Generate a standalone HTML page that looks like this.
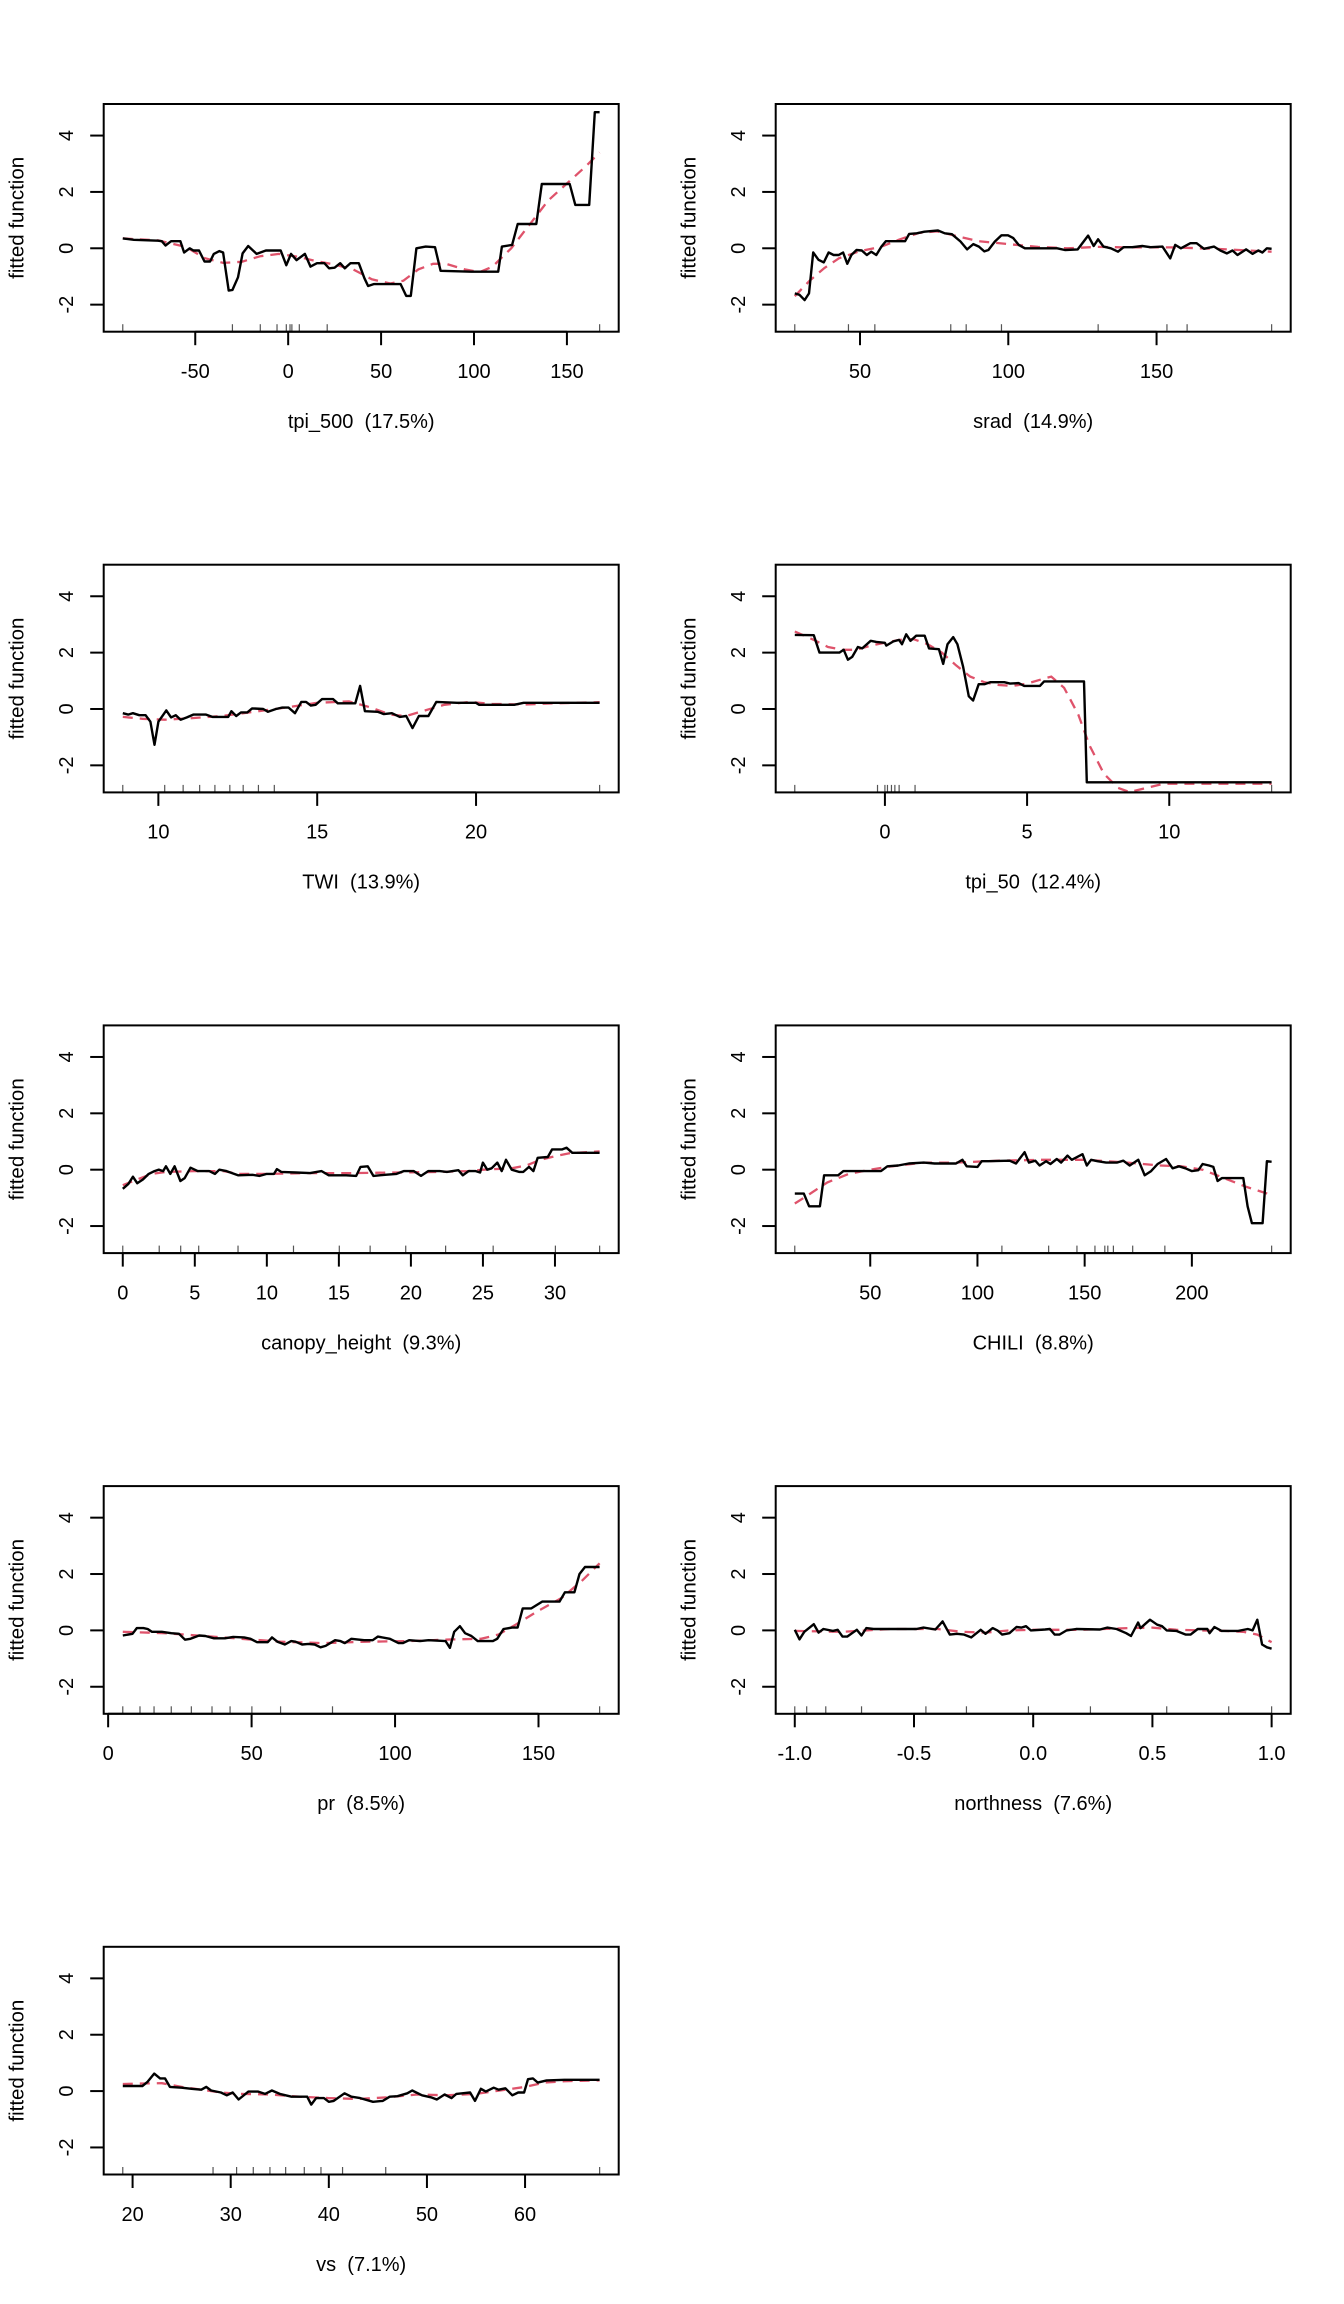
<!DOCTYPE html>
<html><head><meta charset="utf-8"><style>
html,body{margin:0;padding:0;background:#fff;}
svg{display:block;font-family:"Liberation Sans",Arial,sans-serif;}
svg text{white-space:pre;}
</style></head><body>
<svg id="fig" width="1344" height="2304" viewBox="0 0 1344 2304" xmlns="http://www.w3.org/2000/svg" xml:space="preserve"></svg>
<script>
// ---- data (one set of small arrays per panel) ----
const labels = ["tpi_500  (17.5%)","srad  (14.9%)","TWI  (13.9%)","tpi_50  (12.4%)","canopy_height  (9.3%)","CHILI  (8.8%)","pr  (8.5%)","northness  (7.6%)","vs  (7.1%)"];
const xTicks1 = [-50,0,50,100,150];
const xTicks2 = [50,100,150];
const xTicks3 = [10,15,20];
const xTicks4 = [0,5,10];
const xTicks5 = [0,5,10,15,20,25,30];
const xTicks6 = [50,100,150,200];
const xTicks7 = [0,50,100,150];
const xTicks8 = [-1.0,-0.5,0.0,0.5,1.0];
const xTickLabels8 = ["-1.0","-0.5","0.0","0.5","1.0"];
const xTicks9 = [20,30,40,50,60];
const yTicks = [-2,0,2,4];

const bx1 = [-89,-83,-70,-68,-66,-63,-58,-56,-53,-51,-48,-45,-42,-40,-37,-35,-32,-30,-27,-24.5,-21.5,-17,-12,-4,-1,1.5,4.5,9,12,15.5,19.5,22,25,28,30.5,33.5,38,41,43,46,60.5,63.5,66,69,74,79,82,98.5,113,115,120.5,123.5,133.5,136.5,151.5,154.5,162,165,167.6];
const by1 = [0.35,0.3,0.27,0.25,0.1,0.25,0.25,-0.15,0,-0.08,-0.08,-0.47,-0.47,-0.2,-0.1,-0.15,-1.5,-1.48,-1.03,-0.18,0.08,-0.2,-0.08,-0.08,-0.6,-0.2,-0.42,-0.2,-0.65,-0.53,-0.53,-0.71,-0.69,-0.53,-0.71,-0.53,-0.53,-1.06,-1.34,-1.27,-1.27,-1.69,-1.69,0,0.06,0.04,-0.8,-0.83,-0.83,0.06,0.12,0.86,0.86,2.28,2.28,1.54,1.54,4.83,4.83];
const rx1 = [-89,-70,-55,-45,-35,-25,-15,-5,5,15,25,35,45,55,62,70,78,85,95,103,110,120,130,140,150,160,167.6];
const ry1 = [0.35,0.28,0.05,-0.35,-0.52,-0.48,-0.28,-0.2,-0.3,-0.45,-0.58,-0.75,-1.1,-1.25,-1.15,-0.75,-0.55,-0.55,-0.75,-0.85,-0.65,0,0.85,1.7,2.3,2.9,3.4];
const rug1 = [-89,-30,-15,-6,-1,1,2,6,21,167.6];

const bx2 = [28,29.6,31.3,32.8,34.2,36,37.8,39.4,41.1,42.8,44.3,45.7,47.1,48.8,50.6,52.3,53.8,55.5,57.2,58.7,61.6,65.2,66.6,69.1,71.7,76.3,78.6,81,83.9,86.1,88.2,90.1,91.9,93.3,95.5,97.7,99.9,101.7,103.5,105.6,110.7,116.5,119.1,123.4,126.9,128.8,130.3,132.1,134.6,137,138.9,141.8,145.2,148,152,154.6,156.3,158.2,161.4,163.5,166,169.4,171.5,173.7,175.6,177.3,180.2,182.4,184.3,185.7,187.2,188.8];
const by2 = [-1.6,-1.65,-1.84,-1.6,-0.15,-0.41,-0.5,-0.15,-0.24,-0.24,-0.15,-0.55,-0.24,-0.06,-0.08,-0.24,-0.12,-0.24,0.06,0.25,0.25,0.25,0.51,0.53,0.59,0.63,0.53,0.5,0.24,-0.04,0.15,0.06,-0.11,-0.06,0.24,0.46,0.46,0.36,0.12,0,0,0,-0.06,-0.04,0.45,0.08,0.32,0.06,0,-0.12,0.04,0.04,0.08,0.04,0.06,-0.36,0.12,0,0.18,0.18,-0.02,0.06,-0.08,-0.18,-0.08,-0.24,-0.04,-0.2,-0.08,-0.15,0,-0.02];
const rx2 = [28,33,38,43,50,57,63,70,76,83,90,100,110,120,130,140,155,170,188.8];
const ry2 = [-1.7,-1.15,-0.7,-0.35,-0.1,0.05,0.3,0.55,0.6,0.42,0.25,0.15,0.05,0,0.05,0.03,0.03,-0.02,-0.12];
const rug2 = [28,46.1,55,80.6,85.8,97.7,130.3,153.5,160.3,188.8];

const bx3 = [8.88,9.05,9.2,9.4,9.6,9.75,9.88,10.0,10.25,10.4,10.55,10.7,10.9,11.1,11.5,11.7,12.2,12.3,12.45,12.6,12.8,12.95,13.3,13.45,13.7,13.9,14.1,14.3,14.5,14.65,14.8,14.95,15.15,15.5,15.65,16.2,16.35,16.5,16.9,17.1,17.35,17.6,17.8,18.0,18.2,18.5,18.75,19.4,20.0,20.1,21.2,21.5,23.89];
const by3 = [-0.15,-0.2,-0.15,-0.22,-0.22,-0.45,-1.27,-0.45,-0.05,-0.3,-0.22,-0.38,-0.3,-0.2,-0.2,-0.28,-0.28,-0.08,-0.25,-0.12,-0.12,0.02,0,-0.1,0,0.05,0.05,-0.15,0.25,0.25,0.12,0.15,0.35,0.35,0.2,0.2,0.82,-0.08,-0.1,-0.18,-0.15,-0.28,-0.25,-0.68,-0.25,-0.25,0.25,0.22,0.22,0.15,0.15,0.22,0.22];
const rx3 = [8.88,9.5,10.2,11,12,13,14,15,16,16.7,17.3,17.8,18.4,19,19.8,20.5,21.5,22.5,23.89];
const ry3 = [-0.28,-0.35,-0.38,-0.33,-0.25,-0.1,0.05,0.22,0.27,0.05,-0.2,-0.25,-0.05,0.15,0.25,0.18,0.16,0.2,0.24];
const rug3 = [8.88,10.2,10.78,11.3,11.78,12.25,12.67,13.15,13.65,23.89];

const bx4 = [-3.17,-2.5,-2.3,-1.6,-1.45,-1.3,-1.15,-0.95,-0.8,-0.5,-0.3,0,0.05,0.3,0.5,0.6,0.75,0.9,1.1,1.4,1.55,1.9,2.05,2.2,2.4,2.55,2.75,2.95,3.1,3.3,3.5,3.7,4.2,4.4,4.7,4.9,5.45,5.6,7.0,7.1,13.6];
const by4 = [2.63,2.62,2.0,2.0,2.1,1.75,1.85,2.2,2.15,2.42,2.38,2.35,2.25,2.4,2.45,2.3,2.65,2.42,2.6,2.6,2.15,2.12,1.6,2.3,2.55,2.3,1.5,0.45,0.3,0.88,0.88,0.95,0.95,0.9,0.92,0.82,0.82,0.98,0.98,-2.6,-2.6];
const rx4 = [-3.17,-2.5,-2,-1.5,-1,-0.5,0,0.5,1,1.5,2,2.5,3,3.5,4,4.5,5,5.5,5.85,6.3,6.8,7.2,7.7,8.2,8.6,9.2,9.8,13.6];
const ry4 = [2.75,2.45,2.2,2.1,2.1,2.25,2.35,2.45,2.48,2.3,2.0,1.55,1.15,0.95,0.85,0.82,0.9,1.05,1.15,0.75,-0.2,-1.3,-2.3,-2.8,-2.95,-2.8,-2.65,-2.65];
const rug4 = [-3.17,-0.26,0,0.09,0.23,0.35,0.5,1.06,13.6];

const bx5 = [0,0.4,0.7,1.0,1.4,1.8,2.2,2.5,2.8,3.0,3.3,3.6,4.0,4.3,4.7,5.2,6.0,6.4,6.7,7.2,8.0,9.0,9.5,10.0,10.5,10.7,11.0,12.0,13.0,13.8,14.3,15.5,16.2,16.5,17.0,17.4,18.2,19.0,19.5,20.2,20.7,21.2,22.0,22.5,23.3,23.6,24.0,24.5,24.8,25.0,25.3,25.6,26.0,26.3,26.6,27.0,27.5,27.8,28.2,28.5,28.8,29.5,29.8,30.5,30.8,31.2,33.1];
const by5 = [-0.68,-0.5,-0.25,-0.48,-0.35,-0.15,-0.05,0,-0.05,0.12,-0.15,0.12,-0.4,-0.3,0.07,-0.05,-0.05,-0.15,0,-0.05,-0.2,-0.18,-0.22,-0.15,-0.15,0.02,-0.08,-0.1,-0.12,-0.05,-0.2,-0.2,-0.22,0.1,0.12,-0.22,-0.18,-0.15,-0.05,-0.05,-0.22,-0.05,-0.05,-0.08,-0.02,-0.2,-0.05,-0.05,-0.1,0.25,0,0.05,0.25,-0.05,0.35,0,-0.08,-0.08,0.1,-0.05,0.42,0.45,0.72,0.72,0.78,0.6,0.6];
const rx5 = [0,1,2,3,5,7,8,10,13,16,19,22,24,25,27,28,29,30,31,33.1];
const ry5 = [-0.55,-0.35,-0.15,-0.08,-0.05,-0.05,-0.15,-0.15,-0.12,-0.12,-0.1,-0.08,-0.05,0,0.05,0.15,0.35,0.48,0.58,0.65];
const rug5 = [0,2.53,4.02,5.27,8.0,11.85,15.03,17.17,19.64,22.41,25.71,30.03,33.1];

const bx6 = [14.8,19,21.5,26.5,28.5,35,37.5,55,58,63,68,75,80,90,93,95,100,102,105,115,118,122,124,127,129,132,134,137,139,142,144,149,151,153,156,160,165,168,171,175,178,181,184,188,191,194,197,200,203,205,208,210,212,214,224,226,228,233,235,237.2];
const by6 = [-0.85,-0.85,-1.3,-1.3,-0.2,-0.2,-0.05,-0.05,0.12,0.15,0.22,0.25,0.22,0.22,0.35,0.12,0.1,0.3,0.3,0.32,0.22,0.62,0.25,0.32,0.15,0.3,0.2,0.38,0.25,0.5,0.35,0.55,0.15,0.35,0.3,0.25,0.25,0.32,0.15,0.35,-0.2,-0.05,0.2,0.38,0.05,0.12,0.05,-0.05,-0.02,0.2,0.15,0.1,-0.4,-0.3,-0.3,-1.3,-1.9,-1.9,0.3,0.28];
const rx6 = [14.8,20,25,30,40,50,60,75,90,110,130,150,170,185,195,205,215,225,237.2];
const ry6 = [-1.2,-0.95,-0.7,-0.45,-0.15,0,0.12,0.25,0.25,0.32,0.35,0.35,0.25,0.15,0.12,0,-0.3,-0.6,-0.9];
const rug6 = [14.8,111.4,133.2,146.4,154.8,159.4,160.8,163.4,172.4,187.4,237.2];

const bx7 = [5.1,8.5,10,12.3,13.8,15.2,18.7,22,24.7,26.8,28.7,31.7,33.9,36.9,40.7,43.6,47.4,49.6,51.9,55.6,57.1,59,61.6,63.8,65.3,67.6,69.8,72,74,75.8,79.1,81,82.5,84.8,89.2,92.2,94,98.2,101.2,102.7,104.9,108.7,111.7,117.6,119.1,120.6,122.6,124.4,126.6,128.8,134.1,135.6,137.8,140.8,142.7,144.5,147.5,151.3,157.3,159.2,162.5,164.3,166.2,169.2,171.3];
const by7 = [-0.18,-0.12,0.08,0.08,0.05,-0.05,-0.05,-0.1,-0.12,-0.33,-0.3,-0.18,-0.2,-0.28,-0.28,-0.23,-0.25,-0.3,-0.42,-0.42,-0.25,-0.4,-0.5,-0.38,-0.4,-0.5,-0.48,-0.5,-0.6,-0.55,-0.35,-0.38,-0.45,-0.3,-0.35,-0.35,-0.22,-0.3,-0.45,-0.45,-0.35,-0.38,-0.35,-0.38,-0.62,-0.05,0.15,-0.1,-0.2,-0.38,-0.38,-0.3,0.05,0.1,0.1,0.78,0.78,1.02,1.02,1.35,1.35,2.0,2.25,2.25,2.25];
const rx7 = [5.1,20,40,60,75,90,105,120,130,136,142,150,158,165,171.3];
const ry7 = [-0.05,-0.1,-0.25,-0.4,-0.45,-0.4,-0.38,-0.32,-0.3,-0.15,0.2,0.7,1.15,1.75,2.38];
const rug7 = [5.1,11.1,16,22,29,36.2,42.5,50.1,60.1,78.2,171.3];

const bx8 = [-1,-0.98,-0.96,-0.92,-0.9,-0.88,-0.84,-0.82,-0.8,-0.78,-0.74,-0.72,-0.7,-0.67,-0.62,-0.49,-0.46,-0.41,-0.38,-0.35,-0.32,-0.29,-0.26,-0.22,-0.2,-0.17,-0.15,-0.13,-0.1,-0.07,-0.05,-0.03,-0.01,0.05,0.07,0.09,0.11,0.14,0.18,0.28,0.31,0.35,0.39,0.41,0.44,0.45,0.49,0.52,0.54,0.56,0.6,0.64,0.66,0.69,0.73,0.74,0.76,0.79,0.86,0.9,0.92,0.94,0.96,0.98,1];
const by8 = [0.02,-0.32,-0.05,0.22,-0.08,0.05,-0.02,0.02,-0.22,-0.22,0.02,-0.18,0.08,0.05,0.05,0.05,0.1,0.03,0.32,-0.15,-0.12,-0.15,-0.25,0.02,-0.12,0.08,0,-0.15,-0.1,0.12,0.1,0.15,0,0.03,0.05,-0.15,-0.15,0,0.05,0.03,0.1,0.05,-0.1,-0.2,0.28,0.08,0.38,0.2,0.15,0,-0.02,-0.15,-0.15,0.05,0.05,-0.1,0.12,-0.02,-0.02,0.05,0,0.38,-0.5,-0.6,-0.65];
const rx8 = [-1,-0.8,-0.6,-0.4,-0.3,-0.2,-0.1,0,0.2,0.4,0.5,0.6,0.7,0.8,0.88,0.94,1];
const ry8 = [-0.02,-0.05,0.05,0.05,-0.05,-0.08,0,0.02,0.02,0.08,0.1,0.02,0,-0.02,-0.05,-0.15,-0.42];
const rug8 = [-1,-0.95,-0.87,-0.72,-0.45,-0.28,-0.02,0.24,0.56,0.82,1];

const bx9 = [19,21,21.5,22.2,22.8,23.3,23.8,25,26,27,27.5,28,29,29.6,30.2,30.8,31.8,32.8,33.5,34.2,35,36.2,37,37.8,38.2,38.7,39.5,40,40.5,41.6,42.3,43.2,44.5,45.5,46.2,47,48,48.5,49.5,50.4,51,51.8,52.5,53,53.6,54.4,54.9,55.5,56,56.8,57.3,58,58.7,59.3,59.9,60.3,60.8,61.3,62.2,64,67.6];
const by9 = [0.18,0.18,0.32,0.62,0.45,0.45,0.15,0.12,0.08,0.05,0.15,0.02,-0.05,-0.15,-0.05,-0.3,-0.02,-0.02,-0.1,0.02,-0.1,-0.2,-0.2,-0.2,-0.48,-0.25,-0.25,-0.38,-0.35,-0.08,-0.2,-0.25,-0.38,-0.35,-0.2,-0.18,-0.08,0.02,-0.15,-0.22,-0.3,-0.12,-0.25,-0.1,-0.08,-0.05,-0.35,0.08,-0.02,0.12,0.05,0.1,-0.15,-0.05,-0.05,0.42,0.45,0.3,0.38,0.4,0.4];
const rx9 = [19,21,23,25,27,29,31,34,37,40,43,46,49,52,55,58,60,62,64,67.6];
const ry9 = [0.25,0.27,0.28,0.15,0.05,-0.05,-0.1,-0.12,-0.2,-0.25,-0.28,-0.22,-0.12,-0.15,-0.1,0.05,0.15,0.3,0.35,0.38];
const rug9 = [19,28.2,30.6,32.3,34,35.6,37.5,39.2,41.4,45.8,67.6];

const panels = [
 {bx:bx1,by:by1,rx:rx1,ry:ry1,rug:rug1,ticks:xTicks1},
 {bx:bx2,by:by2,rx:rx2,ry:ry2,rug:rug2,ticks:xTicks2},
 {bx:bx3,by:by3,rx:rx3,ry:ry3,rug:rug3,ticks:xTicks3},
 {bx:bx4,by:by4,rx:rx4,ry:ry4,rug:rug4,ticks:xTicks4},
 {bx:bx5,by:by5,rx:rx5,ry:ry5,rug:rug5,ticks:xTicks5},
 {bx:bx6,by:by6,rx:rx6,ry:ry6,rug:rug6,ticks:xTicks6},
 {bx:bx7,by:by7,rx:rx7,ry:ry7,rug:rug7,ticks:xTicks7},
 {bx:bx8,by:by8,rx:rx8,ry:ry8,rug:rug8,ticks:xTicks8,tl:xTickLabels8},
 {bx:bx9,by:by9,rx:rx9,ry:ry9,rug:rug9,ticks:xTicks9}
];

// ---- drawing ----
const NS = "http://www.w3.org/2000/svg";
const svg = document.getElementById('fig');
const BOXW = 515, BOXH = 227.7, YMIN = -2.96, YMAX = 5.12;
function mk(tag, attrs, parent){ const e=document.createElementNS(NS,tag); for(const k in attrs) e.setAttribute(k,attrs[k]); parent.appendChild(e); return e; }

panels.forEach((p,i)=>{
  const col=i%2, row=Math.floor(i/2);
  const L = 103.7 + col*672, T = 104 + row*460.7;
  const lo = Math.min(...p.bx), hi = Math.max(...p.bx), pad=(hi-lo)*0.04;
  const x0 = lo-pad, x1 = hi+pad;
  const sx = v => L + (v-x0)/(x1-x0)*BOXW;
  const sy = v => T + (YMAX-v)/(YMAX-YMIN)*BOXH;

  const g = mk('g',{},svg);
  
  

  const cp = mk('clipPath',{id:'clip'+i},g);
  mk('rect',{x:L,y:T,width:BOXW,height:BOXH},cp);

  p.rug.forEach(v=>{
    const r = mk('line',{x1:sx(v),x2:sx(v),y1:T+BOXH,y2:T+BOXH-7.5,stroke:'#555','stroke-width':1.2},g);
    
    
  });
  const red = mk('polyline',{points:p.rx.map((v,k)=>sx(v).toFixed(1)+','+sy(p.ry[k]).toFixed(1)).join(' '),fill:'none',stroke:'#DF536B','stroke-width':2.3,'stroke-dasharray':'10,7','clip-path':'url(#clip'+i+')'},g);
  
  
  const blk = mk('polyline',{points:p.bx.map((v,k)=>sx(v).toFixed(1)+','+sy(p.by[k]).toFixed(1)).join(' '),fill:'none',stroke:'#000','stroke-width':2.4,'stroke-linejoin':'round','clip-path':'url(#clip'+i+')'},g);
  
  
  const box = mk('rect',{x:L,y:T,width:BOXW,height:BOXH,fill:'none',stroke:'#000','stroke-width':2},g);
  
  
  const t0=sx(p.ticks[0]), t1=sx(p.ticks[p.ticks.length-1]);
  const xa = mk('line',{x1:t0,x2:t1,y1:T+BOXH,y2:T+BOXH,stroke:'#000','stroke-width':2},g);
  
  
  p.ticks.forEach((v,k)=>{
    mk('line',{x1:sx(v),x2:sx(v),y1:T+BOXH,y2:T+BOXH+13.5,stroke:'#000','stroke-width':2},g);
    const t = mk('text',{x:sx(v),y:T+274,'text-anchor':'middle','font-size':20},g);
    t.textContent = p.tl ? p.tl[k] : String(v);
    
    
  });
  yTicks.forEach(v=>{
    mk('line',{x1:L-13.5,x2:L,y1:sy(v),y2:sy(v),stroke:'#000','stroke-width':2},g);
    const t = mk('text',{transform:'translate('+(L-30.5)+','+sy(v)+') rotate(-90)','text-anchor':'middle','font-size':20},g);
    t.textContent = String(v);
    
    
  });
  const yl = mk('text',{transform:'translate('+(L-80)+','+(T+BOXH/2)+') rotate(-90)','text-anchor':'middle','font-size':20.5},g);
  yl.textContent='fitted function';
  
  
  const xl = mk('text',{x:L+BOXW/2,y:T+324,'text-anchor':'middle','font-size':20},g);
  xl.textContent = labels[i];
  
  
});
</script>
</body></html>
